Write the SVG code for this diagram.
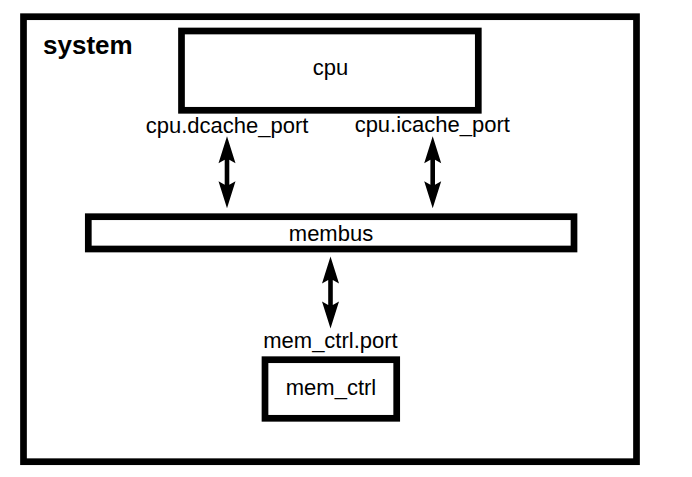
<svg xmlns="http://www.w3.org/2000/svg" width="692" height="477" viewBox="0 0 692 477">
<style>
.box{fill:#fff;stroke:#000;stroke-width:6.7}
.lbl{font-family:"Liberation Sans",Arial,sans-serif;font-size:22px;fill:#000;text-anchor:middle}
.title{font-family:"Liberation Sans",Arial,sans-serif;font-size:26px;font-weight:bold;fill:#000}
.arr{fill:#000;stroke:none}
</style>
<defs>
<path id="dblarrow" class="arr" d="M0,0 L8.5,27 L2.3,23.5 L2.3,48.5 L8.5,45 L0,72 L-8.5,45 L-2.3,48.5 L-2.3,23.5 L-8.5,27 Z"/>
</defs>
<rect width="692" height="477" fill="#fff"/>
<g id="system">
<rect class="box" x="23.5" y="16.7" width="613" height="445"/>
<text class="title" x="43" y="54">system</text>
</g>
<g id="cpu">
<rect class="box" x="181.5" y="31" width="296.8" height="79.3"/>
<text class="lbl" x="330.5" y="74.5">cpu</text>
</g>
<g id="membus">
<rect class="box" x="88.3" y="216.7" width="485.7" height="32.3"/>
<text class="lbl" x="331" y="241">membus</text>
</g>
<g id="mem_ctrl">
<rect class="box" x="265" y="359.7" width="131.7" height="58.6"/>
<text class="lbl" x="331" y="395">mem_ctrl</text>
</g>
<g id="connectors">
<use href="#dblarrow" x="227" y="136.3"/>
<use href="#dblarrow" x="432.7" y="136.3"/>
<use href="#dblarrow" x="330.5" y="256.5"/>
<text class="lbl" x="227" y="133">cpu.dcache_port</text>
<text class="lbl" x="432.3" y="132">cpu.icache_port</text>
<text class="lbl" x="330.5" y="348">mem_ctrl.port</text>
</g>
</svg>
